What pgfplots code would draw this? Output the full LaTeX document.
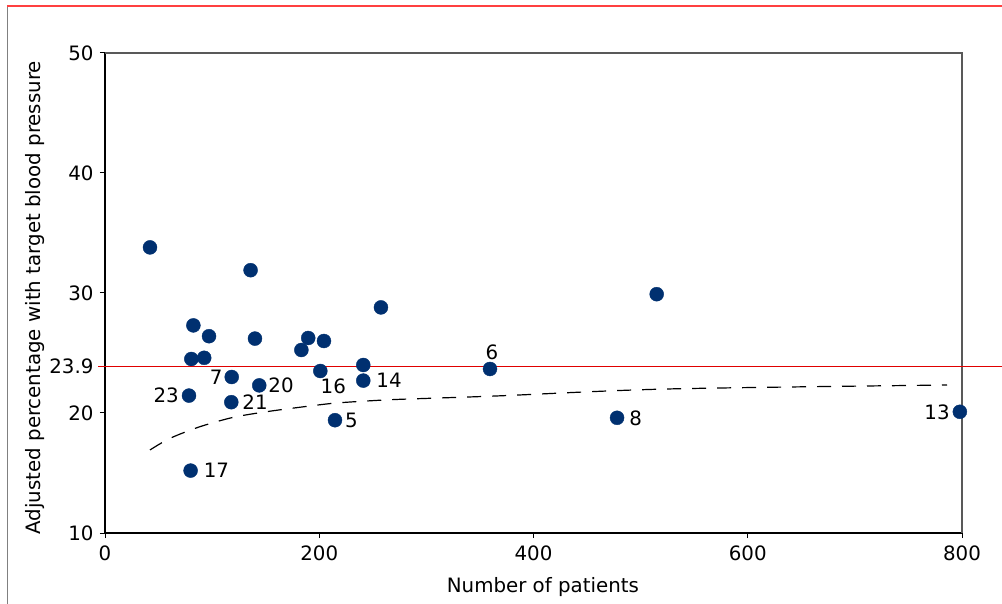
\documentclass[border=0pt]{standalone}
\usepackage{fontspec}
\setmainfont{DejaVu Sans}
\usepackage{pgfplots}
\pgfplotsset{compat=1.18}
\definecolor{DotNavy}{HTML}{003070}
\definecolor{FrameRed}{HTML}{FF4040}
\definecolor{RefRed}{HTML}{E00000}
\newcommand{\chartfont}{\fontsize{19.8bp}{24bp}\selectfont}

\begin{document}
\begin{tikzpicture}
\useasboundingbox (0bp,0bp) rectangle (1002bp,604bp);
% frame bits of the surrounding page
\draw[gray, line width=1bp] (7.5bp,598bp) -- (7.5bp,0bp);
\draw[FrameRed, line width=2bp] (7bp,598bp) -- (1002bp,598bp);

\begin{axis}[
  at={(105bp,71bp)}, anchor=south west,
  scale only axis, width=857bp, height=480bp,
  xmin=0, xmax=800, ymin=10, ymax=50,
  axis x line*=bottom, axis y line*=left,
  axis line style={black, line width=1.2bp, -},
  xtick={0,200,400,600,800}, ytick={10,20,30,40,50},
  extra y ticks={23.9}, extra y tick labels={23.9},
  extra y tick style={major tick length=0pt, tick label style={xshift=-5bp}},
  tick align=outside, major tick length=5bp,
  tick style={black, line width=1bp},
  font=\chartfont,
  /pgf/number format/assume math mode=true,
  xticklabel style={yshift=-4bp},
  yticklabel style={xshift=-3bp},
  xlabel={Number of patients},
  xlabel style={at={(axis description cs:0.511,-0.1125)}, anchor=center},
  ylabel={Adjusted percentage with target blood pressure},
  ylabel style={at={(axis description cs:-0.0817,0.49)}, anchor=center, rotate=0},
  clip=false,
]
% top and right border
\draw[gray!70!black, line width=1.2bp] (rel axis cs:0,1) -- (rel axis cs:1,1) -- (rel axis cs:1,0);

% overall mean
\addplot[RefRed, line width=1.3bp] coordinates {(-6.5,23.9) (837.4,23.9)};

% lower control limit
\addplot[black, line width=1.2bp, dash pattern=on 14bp off 11bp, smooth] coordinates {
  (42,16.92) (60.7,17.89) (88.7,18.86) (119.8,19.64) (151,20.11) (182,20.48)
  (213.1,20.81) (244.3,21.0) (275.4,21.14) (365.7,21.42) (524.4,22.0) (786,22.33)};

% practices
\addplot[only marks, mark=*, mark size=7bp, DotNavy, mark options={draw=DotNavy, fill=DotNavy}] coordinates {
  (42,33.8) (135.9,31.9) (82.5,27.3) (97.1,26.4) (140,26.2) (257.6,28.8)
  (189.7,26.25) (204.4,26.0) (183.3,25.25) (80.6,24.5) (92.6,24.6) (241.1,24.0)
  (359.4,23.67) (118.3,23.0) (201,23.5) (241.1,22.7) (144,22.3) (78.4,21.45)
  (117.9,20.9) (214.7,19.4) (478,19.6) (798,20.1) (79.9,15.2) (515,29.9)};

\begin{scope}[every node/.style={inner sep=0pt, font=\chartfont}]
\node[anchor=center, xshift=2bp, yshift=17bp] at (axis cs:359.4,23.67) {6};
\node[anchor=east, xshift=-9bp] at (axis cs:118.3,23.0) {7};
\node[anchor=center, xshift=13bp, yshift=-15bp] at (axis cs:201,23.5) {16};
\node[anchor=west, xshift=13bp] at (axis cs:241.1,22.7) {14};
\node[anchor=west, xshift=9bp] at (axis cs:144,22.3) {20};
\node[anchor=east, xshift=-10bp] at (axis cs:78.4,21.45) {23};
\node[anchor=west, xshift=11bp] at (axis cs:117.9,20.9) {21};
\node[anchor=west, xshift=10bp] at (axis cs:214.7,19.4) {5};
\node[anchor=west, xshift=12bp] at (axis cs:478,19.6) {8};
\node[anchor=east, xshift=-10bp] at (axis cs:798,20.1) {13};
\node[anchor=west, xshift=13bp] at (axis cs:79.9,15.2) {17};
\end{scope}
\end{axis}
\end{tikzpicture}
\end{document}
